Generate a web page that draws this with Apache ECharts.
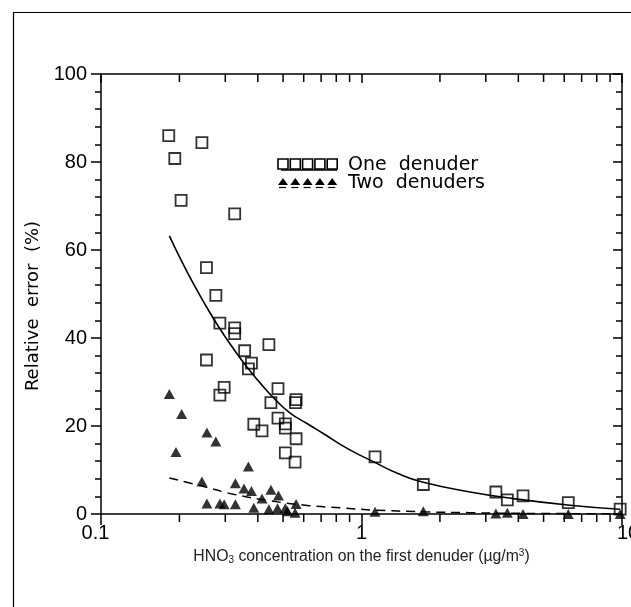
<!DOCTYPE html>
<html>
<head>
<meta charset="utf-8">
<script src="https://cdn.jsdelivr.net/npm/echarts@6/dist/echarts.min.js"></script>
<style>
  html, body { margin: 0; padding: 0; background: #fff; }
  #chart { width: 631px; height: 607px; }
</style>
</head>
<body>
<div id="chart"></div>
<script>
// one denuder (open squares)
const oneX = [0.182, 0.192, 0.203, 0.244, 0.326, 0.254, 0.276, 0.286, 0.326, 0.326,
  0.254, 0.286, 0.297, 0.356, 0.378, 0.368, 0.441, 0.386, 0.415, 0.449,
  0.478, 0.478, 0.51, 0.51, 0.51, 0.561, 0.558, 0.561, 0.556, 1.127,
  1.727, 3.28, 3.63, 4.17, 6.22, 9.84];
const oneY = [86.0, 80.8, 71.3, 84.4, 68.2, 56.0, 49.7, 43.4, 42.3, 41.0,
  35.0, 27.0, 28.8, 37.1, 34.3, 33.0, 38.5, 20.4, 18.9, 25.3,
  28.5, 21.8, 20.5, 19.5, 13.9, 26.0, 25.3, 17.1, 11.8, 13.0,
  6.7, 5.0, 3.2, 4.1, 2.6, 1.1];

// two denuders (filled triangles)
const twoX = [0.183, 0.204, 0.194, 0.255, 0.276, 0.244, 0.255, 0.286, 0.297, 0.328,
  0.328, 0.368, 0.354, 0.378, 0.386, 0.415, 0.449, 0.48, 0.441, 0.476,
  0.51, 0.52, 0.561, 0.556, 1.127, 1.727, 3.28, 3.63, 4.17, 6.22, 9.84];
const twoY = [27.3, 22.7, 14.1, 18.5, 16.5, 7.4, 2.4, 2.4, 2.2, 2.2,
  7.0, 10.8, 5.8, 5.2, 1.4, 3.5, 5.5, 4.2, 1.1, 1.3,
  1.3, 0.6, 2.3, 0.3, 0.5, 0.6, 0.1, 0.3, 0.0, 0.0, 0.0];

// fitted curves
const fitOneX = [0.183, 0.201, 0.226, 0.254, 0.286, 0.322, 0.362, 0.408, 0.458, 0.531,
  0.62, 0.713, 0.888, 1.11, 1.38, 1.727, 2.61, 3.83, 6.32, 9.82];
const fitOneY = [63.2, 58.2, 52.4, 47.1, 42.1, 37.6, 33.5, 29.8, 26.5, 23.0,
  20.5, 18.3, 14.8, 11.9, 9.2, 7.2, 5.0, 3.5, 2.0, 1.07];
const fitTwoX = [0.183, 0.25, 0.322, 0.446, 0.63, 0.83, 1.11, 1.73, 2.6, 4.0, 10];
const fitTwoY = [8.2, 6.2, 4.5, 3.0, 1.9, 1.4, 0.9, 0.5, 0.3, 0.15, 0.05];

// log axis minor ticks
const minorX = [0.2, 0.3, 0.4, 0.5, 0.6, 0.7, 0.8, 0.9, 2, 3, 4, 5, 6, 7, 8, 9];

const zip = (a, b) => a.map((v, i) => [v, b[i]]);

const chart = echarts.init(document.getElementById('chart'), null, { renderer: 'canvas' });

const axisLine = { show: true, onZero: false, lineStyle: { color: '#000', width: 1.5 } };
const tickFont = { fontFamily: 'Liberation Sans', fontSize: 20, color: '#000' };

// legend samples
const legendX = 278;
const legendGraphics = [];
for (let i = 0; i < 5; i++) {
  const x = legendX + i * 12.3;
  legendGraphics.push({
    type: 'rect', shape: { x: x, y: 159, width: 10, height: 10 },
    style: { fill: 'none', stroke: '#000', lineWidth: 1.6 }
  });
  legendGraphics.push({
    type: 'polygon', shape: { points: [[x, 185], [x + 10, 185], [x + 5, 178]] },
    style: { fill: '#000' }
  });
  legendGraphics.push({
    type: 'line', shape: { x1: x + 1, y1: 187.5, x2: x + 8, y2: 187.5 },
    style: { stroke: '#000', lineWidth: 1.2 }
  });
}
legendGraphics.push({
  type: 'line', shape: { x1: 281, y1: 170, x2: 337, y2: 170 },
  style: { stroke: '#000', lineWidth: 1.5 }
});
legendGraphics.push({
  type: 'text', x: 348, y: 165,
  style: { text: 'One  denuder', font: '19px "DejaVu Sans"', fill: '#000', verticalAlign: 'middle' }
});
legendGraphics.push({
  type: 'text', x: 348, y: 183,
  style: { text: 'Two  denuders', font: '19px "DejaVu Sans"', fill: '#000', verticalAlign: 'middle' }
});

chart.setOption({
  animation: false,
  backgroundColor: '#fff',
  grid: { left: 101, right: 9, top: 74, bottom: 93, containLabel: false, outerBoundsMode: 'none' },
  xAxis: [
    {
      type: 'log', logBase: 10, min: 0.1, max: 10, position: 'bottom',
      axisLine: axisLine,
      axisTick: { show: true, length: 11, lineStyle: { color: '#000', width: 1.5 } },
      minorTick: { show: false },
      splitLine: { show: false },
      axisLabel: Object.assign({
        margin: 9,
        formatter: function (v) {
          if (v < 0.5) return '{l|0.1}';
          if (v > 5) return '{r|10}';
          return '{c|' + v + '}';
        },
        rich: {
          l: Object.assign({ padding: [0, 11, 0, 0] }, tickFont),
          r: Object.assign({ padding: [0, 0, 0, 12] }, tickFont),
          c: Object.assign({}, tickFont)
        }
      }, tickFont),
      name: '{n|HNO}{sub|3}{n| concentration on the first denuder (\u00b5g/m}{sup|3}{n|)}',
      nameLocation: 'middle', nameGap: 32,
      nameTextStyle: {
        rich: {
          n: { fontFamily: 'Liberation Sans', fontSize: 15.8, color: '#222' },
          sub: { fontFamily: 'Liberation Sans', fontSize: 10, color: '#222', padding: [8, 0, 0, 0] },
          sup: { fontFamily: 'Liberation Sans', fontSize: 10, color: '#222', padding: [0, 0, 7, 0] }
        }
      }
    },
    {
      type: 'log', logBase: 10, min: 0.1, max: 10, position: 'top',
      axisLine: axisLine,
      axisTick: { show: true, inside: true, length: 9, lineStyle: { color: '#000', width: 1.5 } },
      axisLabel: { show: false },
      splitLine: { show: false }
    }
  ],
  yAxis: [
    {
      type: 'value', min: 0, max: 100, interval: 20, position: 'left',
      axisLine: axisLine,
      axisTick: { show: true, length: 10, lineStyle: { color: '#000', width: 1.5 } },
      minorTick: { show: true, splitNumber: 5, length: 6, lineStyle: { color: '#000', width: 1.5 } },
      splitLine: { show: false },
      axisLabel: Object.assign({ margin: 14 }, tickFont),
      name: 'Relative  error  (%)',
      nameLocation: 'middle', nameRotate: 90, nameGap: 52,
      nameTextStyle: { fontFamily: 'DejaVu Sans', fontSize: 18, color: '#000', padding: [0, 24, 0, 0] }
    },
    {
      type: 'value', min: 0, max: 100, interval: 20, position: 'right',
      axisLine: axisLine,
      axisTick: { show: true, inside: true, length: 9, lineStyle: { color: '#000', width: 1.5 } },
      minorTick: { show: true, splitNumber: 5, length: 6, lineStyle: { color: '#000', width: 1.5 } },
      splitLine: { show: false },
      axisLabel: { show: false }
    }
  ],
  graphic: [
    {
      type: 'rect', left: 11, top: 10, silent: true,
      shape: { width: 700, height: 700 },
      style: { fill: 'none', stroke: '#000', lineWidth: 1.2 }
    },
    { type: 'group', children: legendGraphics }
  ],
  series: [
    {
      type: 'custom', name: 'minor', xAxisIndex: 0, yAxisIndex: 0, clip: false, silent: true,
      data: minorX.map(v => [v, 0]),
      renderItem: function (params, api) {
        const v = api.value(0);
        const b = api.coord([v, 0]);
        const t = api.coord([v, 100]);
        const st = { stroke: '#000', lineWidth: 1.5 };
        return {
          type: 'group',
          children: [
            { type: 'line', shape: { x1: b[0], y1: b[1], x2: b[0], y2: b[1] + 8 }, style: st },
            { type: 'line', shape: { x1: t[0], y1: t[1], x2: t[0], y2: t[1] + 8 }, style: st }
          ]
        };
      }
    },
    {
      type: 'line', name: 'fit one', data: zip(fitOneX, fitOneY), smooth: 0.5,
      showSymbol: false, symbol: 'none',
      lineStyle: { color: '#000', width: 1.6 }, z: 3
    },
    {
      type: 'line', name: 'fit two', data: zip(fitTwoX, fitTwoY), smooth: 0.5,
      showSymbol: false, symbol: 'none',
      lineStyle: { color: '#000', width: 1.5, type: [9, 6] }, z: 3
    },
    {
      type: 'scatter', name: 'One denuder', data: zip(oneX, oneY),
      symbol: 'rect', symbolSize: 11, clip: false,
      itemStyle: { color: 'rgba(0,0,0,0)', borderColor: '#000', borderWidth: 1.8 }, z: 4
    },
    {
      type: 'scatter', name: 'Two denuders', data: zip(twoX, twoY),
      symbol: 'triangle', symbolSize: [11, 10], clip: true,
      itemStyle: { color: '#000' }, z: 4
    }
  ]
});
</script>
</body>
</html>
